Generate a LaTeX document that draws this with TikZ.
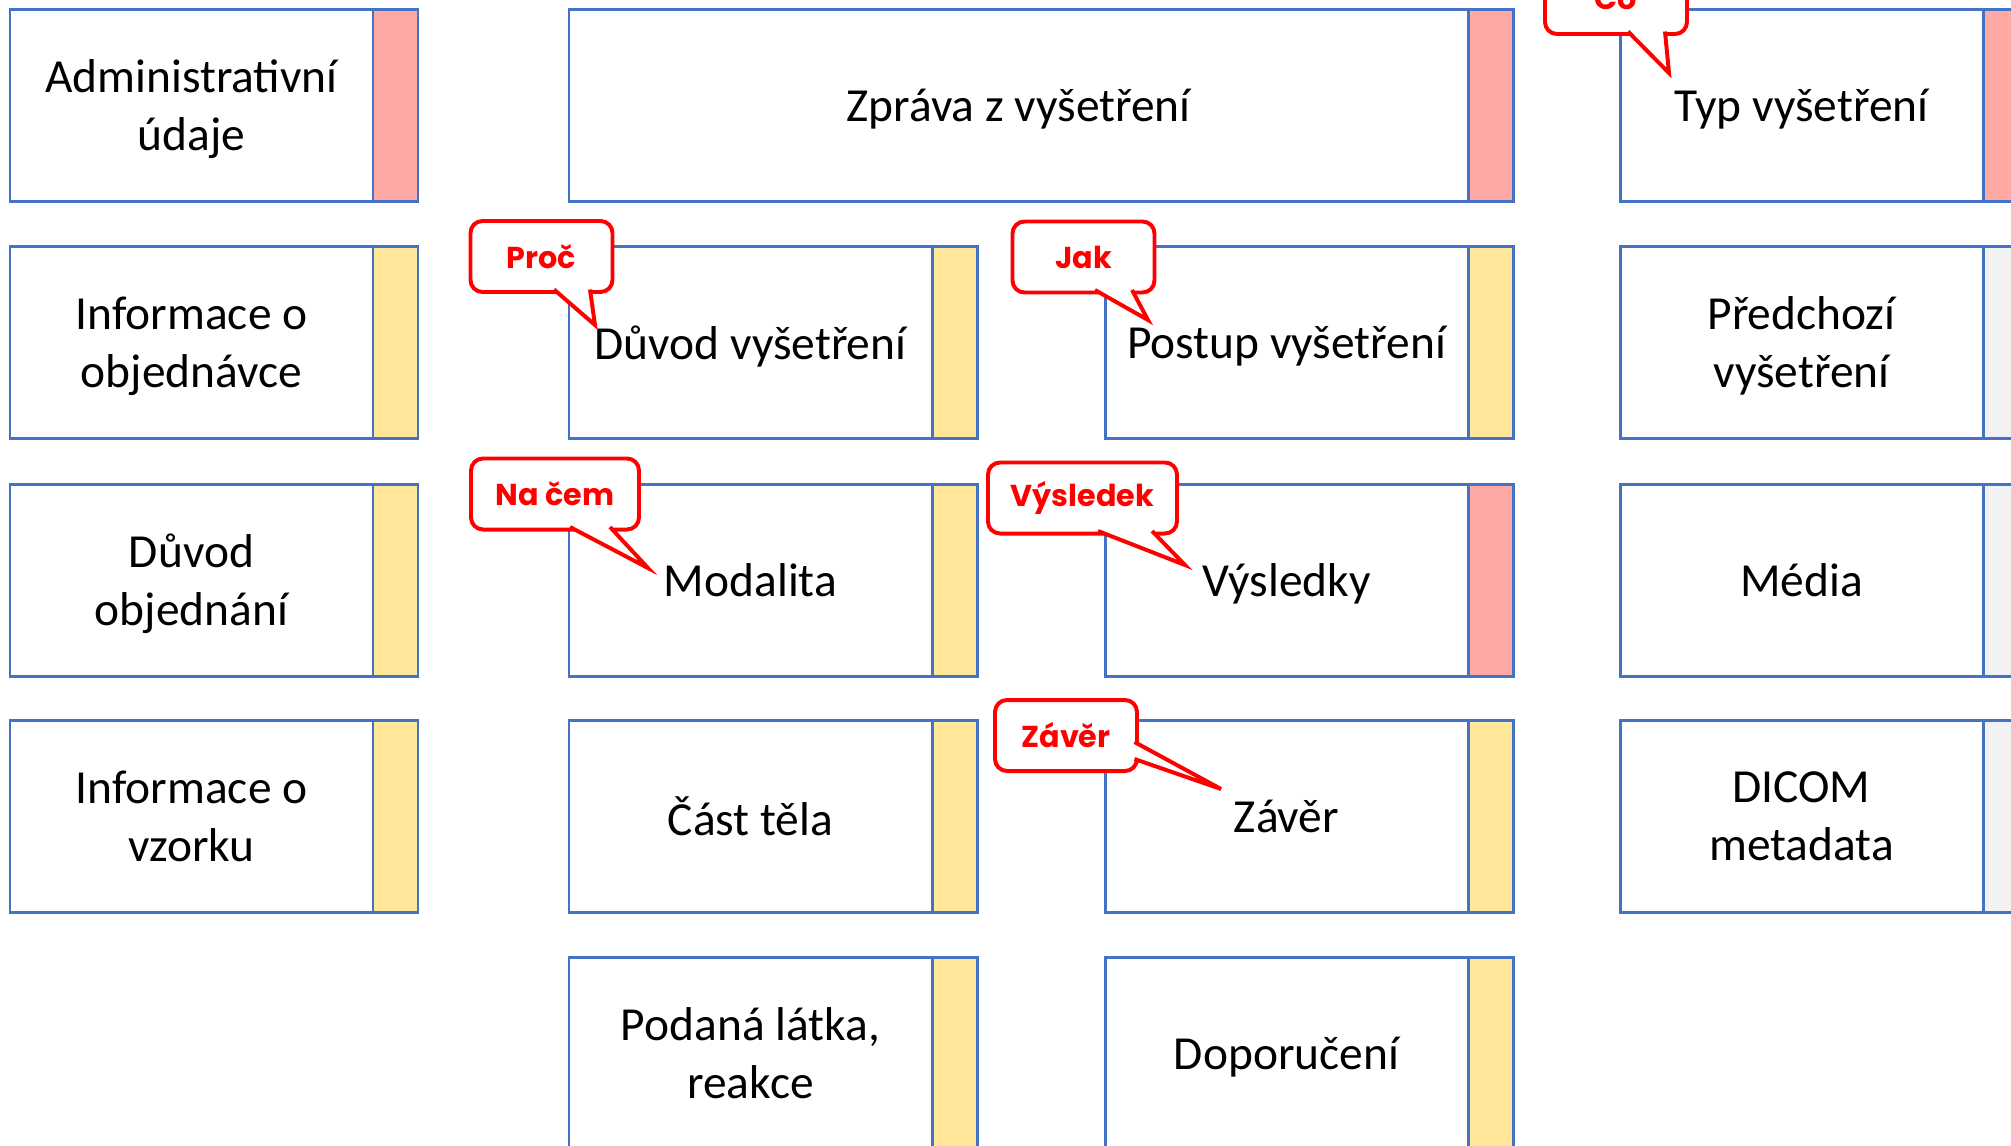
\documentclass[tikz,border=0pt]{standalone}
\usepackage{fontspec}
\setmainfont{Carlito}
\newfontfamily\calloutfont{Poppins}
\usetikzlibrary{positioning,calc}

\definecolor{boxblue}{HTML}{4472C4}
\definecolor{tagpink}{HTML}{FFA9A5}
\definecolor{tagyellow}{HTML}{FFE699}
\definecolor{taggray}{HTML}{F2F2F2}
\definecolor{callred}{HTML}{FF0000}

\tikzset{
  field/.style={draw=boxblue, line width=0.85pt, fill=white, minimum width=3.63cm,
    minimum height=1.92cm, align=center, inner sep=0pt, outer sep=0pt, text depth=0pt,
    font=\fontsize{13.5}{16.5}\selectfont},
  flag/.style={draw=boxblue, line width=0.85pt, fill=#1, minimum width=0.45cm,
    minimum height=1.92cm, inner sep=0pt, outer sep=0pt},
  callout/.style={draw=callred, line width=1.13pt, fill=white, rounded corners=0.12cm,
    minimum width=1.42cm, minimum height=0.71cm, inner sep=0pt, outer sep=0pt,
    text=callred, font=\calloutfont\bfseries\fontsize{8.6}{10}\selectfont},
  calltail/.style={draw=callred, line width=1.13pt, fill=white, line join=miter}
}

\begin{document}
\begin{tikzpicture}[x=1cm, y=-1cm]
    \clip (0,0) rectangle (20.11,11.45);

    % Sections (white part + coloured tag on the right)
    \foreach \nm/\cx/\cy/\tint/\txt in {
        adm/1.915/1.055/tagpink/{Administrativní\\údaje},
        objed/1.915/3.425/tagyellow/{Informace o\\objednávce},
        duvobj/1.915/5.80/tagyellow/{Důvod\\objednání},
        vzorek/1.915/8.165/tagyellow/{Informace o\\vzorku},
        duvvys/7.505/3.425/tagyellow/{Důvod vyšetření},
        modal/7.505/5.80/tagyellow/{Modalita},
        telo/7.505/8.165/tagyellow/{Část těla},
        latka/7.505/10.53/tagyellow/{Podaná látka,\\reakce},
        postup/12.865/3.425/tagyellow/{Postup vyšetření},
        vysl/12.865/5.80/tagpink/{Výsledky},
        zaver/12.865/8.165/tagyellow/{Závěr},
        doporuc/12.865/10.53/tagyellow/{Doporučení},
        typ/18.015/1.055/tagpink/{Typ vyšetření},
        predch/18.015/3.425/taggray/{Předchozí\\vyšetření},
        media/18.015/5.80/taggray/{Média},
        dicom/18.015/8.165/taggray/{DICOM\\metadata}} {
        \node[field] (\nm) at (\cx,\cy) {\txt};
        \node[flag=\tint, right=0pt of \nm] (\nm-tag) {};
    }

    % Report header spans two columns
    \node[field, minimum width=8.99cm] (zprava) at (10.185,1.055) {Zpráva z vyšetření};
    \node[flag=tagpink, right=0pt of zprava] (zprava-tag) {};

    % Question callouts
    \node[callout] (cproc) at (5.415,2.565) {Proč};
    \node[callout] (cjak) at (10.835,2.57) {Jak};
    \node[callout, minimum width=1.68cm] (cnacem) at (5.55,4.94) {Na čem};
    \node[callout, minimum width=1.89cm] (cvysl) at (10.825,4.98) {Výsledek};
    \node[callout] (czaver) at (10.66,7.355) {Závěr};
    \node[callout] (cco) at (16.16,-0.015) {Co};

    % Tail tips
    \coordinate (tproc) at (5.95,3.25);
    \coordinate (tjak) at (11.48,3.20);
    \coordinate (tnacem) at (6.48,5.68);
    \coordinate (tvysl) at (11.85,5.65);
    \coordinate (tzaver) at (12.21,7.89);
    \coordinate (tco) at (16.69,0.73);

    % Tails
    \draw[calltail] ($(cproc.south)+(0.125,-0.025)$) -- (tproc) -- ($(cproc.south)+(0.485,-0.025)$);
    \draw[calltail] ($(cjak.south)+(0.115,-0.025)$) -- (tjak) -- ($(cjak.south)+(0.485,-0.025)$);
    \draw[calltail] ($(cnacem.south)+(0.15,-0.025)$) -- (tnacem) -- ($(cnacem.south)+(0.55,-0.025)$);
    \draw[calltail] ($(cvysl.south)+(0.155,-0.025)$) -- (tvysl) -- ($(cvysl.south)+(0.695,-0.025)$);
    \draw[calltail] ($(czaver.east)+(-0.025,0.065)$) -- (tzaver) -- ($(czaver.east)+(-0.025,0.235)$);
    \draw[calltail] ($(cco.south)+(0.12,-0.025)$) -- (tco) -- ($(cco.south)+(0.49,-0.025)$);
\end{tikzpicture}
\end{document}
